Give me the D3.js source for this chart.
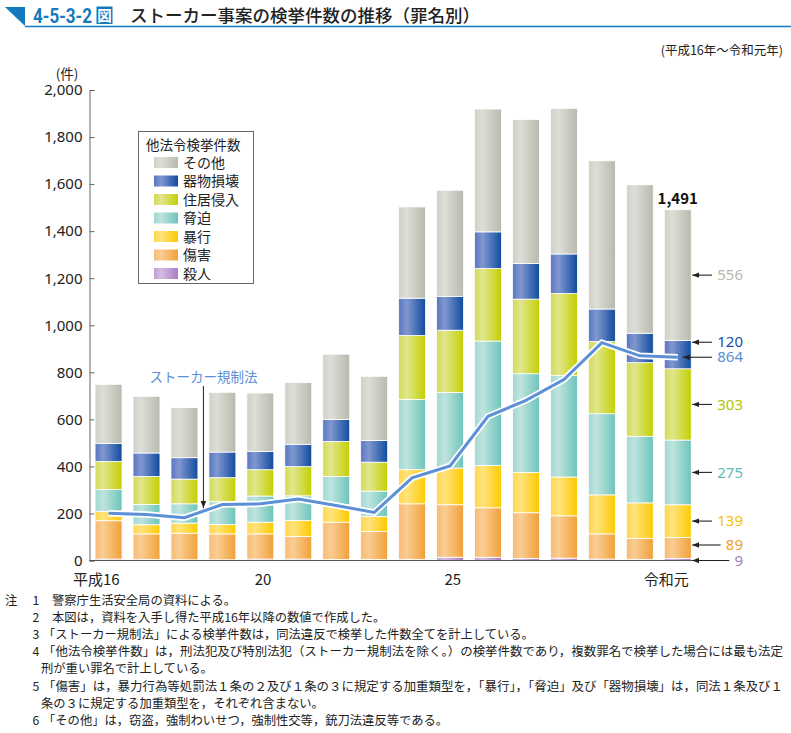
<!DOCTYPE html>
<html><head><meta charset="utf-8">
<script src="https://cdn.jsdelivr.net/npm/d3@7"></script>
<style>
html,body{margin:0;padding:0;background:#fff;}
svg{display:block;font-family:"Noto Sans CJK JP","Noto Sans",sans-serif;}
</style></head>
<body><svg id="c" width="791" height="733"></svg>
<script>
// ---- data ----
const categories = ["平成16","平成17","平成18","平成19","平成20","平成21","平成22","平成23","平成24","平成25","平成26","平成27","平成28","平成29","平成30","令和元"];
const tickLabels = {"平成16":"平成16","平成20":"20","平成25":"25","令和元":"令和元"};
const satsujin = [6,5,3,3,6,6,4,4,5,14,14,9,10,6,5,9];
const shougai  = [163,108,113,110,107,96,159,119,236,223,210,194,180,107,89,89];
const boukou   = [39,39,43,40,50,68,72,64,145,156,180,171,165,166,151,139];
const kyouhaku = [94,86,82,97,111,105,122,108,299,321,529,420,431,345,283,275];
const juukyo   = [119,119,105,102,112,124,149,123,271,265,308,317,349,307,313,303];
const kibutsu  = [76,100,91,109,78,95,93,92,159,144,156,151,168,138,125,120];
const sonota   = [252,241,213,254,248,262,278,273,388,451,522,613,619,630,631,556];
const stalker  = [201,196,182,238,241,261,234,204,351,402,613,681,769,926,870,864];
const seriesNames = ["殺人","傷害","暴行","脅迫","住居侵入","器物損壊","その他"];
const yTicks = [0,200,400,600,800,1000,1200,1400,1600,1800,2000];
const notes = [
 ["注","1","警察庁生活安全局の資料による。"],
 ["","2","本図は，資料を入手し得た平成16年以降の数値で作成した。"],
 ["","3","「ストーカー規制法」による検挙件数は，同法違反で検挙した件数全てを計上している。"],
 ["","4","「他法令検挙件数」は，刑法犯及び特別法犯（ストーカー規制法を除く。）の検挙件数であり，複数罪名で検挙した場合には最も法定"],
 ["","","刑が重い罪名で計上している。"],
 ["","5","「傷害」は，暴力行為等処罰法１条の２及び１条の３に規定する加重類型を，「暴行」，「脅迫」及び「器物損壊」は，同法１条及び１"],
 ["","","条の３に規定する加重類型を，それぞれ含まない。"],
 ["","6","「その他」は，窃盗，強制わいせつ，強制性交等，銃刀法違反等である。"]
];

// ---- styles ----
const grad = {
 "殺人":   ["#bf9fd3","#d4bce2","#a87fc2"],
 "傷害":   ["#f6bb74","#f9cd93","#f1a038"],
 "暴行":   ["#ffd64a","#ffe37e","#fdca00"],
 "脅迫":   ["#a2d8d1","#bfe4df","#6cc4ba"],
 "住居侵入":["#d2da58","#e1e68c","#c3cf00"],
 "器物損壊":["#5877c0","#8197d0","#0f4b9e"],
 "その他": ["#cfd0c7","#ddded7","#b7baad"]
};
const labelColor = {"殺人":"#a57cc0","傷害":"#f0a035","暴行":"#f3c200","脅迫":"#5cbcb2","住居侵入":"#b3c300","器物損壊":"#1b4f9f","その他":"#b6b9aa"};
const lineColor = "#5b8fd6";

const svg = d3.select("#c");
const defs = svg.append("defs");
seriesNames.forEach((s,i)=>{
  const g = defs.append("linearGradient").attr("id","g"+i).attr("x1","0").attr("x2","1").attr("y1","0").attr("y2","0");
  g.append("stop").attr("offset","0").attr("stop-color",grad[s][0]);
  g.append("stop").attr("offset","0.3").attr("stop-color",grad[s][1]);
  g.append("stop").attr("offset","1").attr("stop-color",grad[s][2]);
});
defs.append("marker").attr("id","ah").attr("viewBox","0 0 10 10").attr("refX",10).attr("refY",5)
  .attr("markerWidth",7).attr("markerHeight",7).attr("markerUnits","userSpaceOnUse").attr("orient","auto")
  .append("path").attr("d","M0,1 L10,5 L0,9 Z").attr("fill","#222");

// ---- title ----
svg.append("path").attr("d","M5,7 L25,7 L25,26 Z").attr("fill","#1479bd");
svg.append("line").attr("x1",25).attr("x2",791).attr("y1",26.5).attr("y2",26.5).attr("stroke","#1479bd").attr("stroke-width",1.5);
svg.append("text").attr("x",33).attr("y",23).attr("font-size",21).attr("font-weight","bold").attr("fill","#1479bd")
  .attr("font-family","'Liberation Sans Narrow','Roboto','Noto Sans',sans-serif").attr("textLength",59).attr("lengthAdjust","spacingAndGlyphs").text("4-5-3-2");
svg.append("rect").attr("x",96.5).attr("y",6.5).attr("width",16).attr("height",17.5).attr("fill","#1479bd");
svg.append("text").attr("x",104.5).attr("y",21).attr("text-anchor","middle").attr("font-size",14.5).attr("font-weight","bold").attr("fill","#fff").text("図");
svg.append("text").attr("x",130).attr("y",22).attr("font-size",17.5).attr("font-weight","500").attr("fill","#222").text("ストーカー事案の検挙件数の推移（罪名別）");
svg.append("text").attr("x",783).attr("y",55).attr("text-anchor","end").attr("font-size",12.5).attr("fill","#222").text("(平成16年～令和元年)");

// ---- scales ----
const x = d3.scaleBand().domain(categories).range([89,697.3]).paddingInner(0.29).paddingOuter(0.16);
const y = d3.scaleLinear().domain([0,2000]).range([560.5,90]);
const cx = d => x(d) + x.bandwidth()/2;

// ---- axes ----
const yAxis = d3.axisLeft(y).tickValues(yTicks).tickSize(-5).tickPadding(7).tickFormat(d3.format(","));
const gy = svg.append("g").attr("transform","translate(89.5,0)").call(yAxis);
gy.select(".domain").attr("stroke","#666");
gy.selectAll(".tick line").attr("stroke","#666");
gy.selectAll(".tick text").attr("font-size",15).attr("fill","#222").attr("font-family","'Noto Sans',sans-serif");
svg.append("text").attr("x",67).attr("y",79).attr("text-anchor","middle").attr("font-size",13.5).attr("fill","#222").text("(件)");

// ---- stacked bars ----
const table = categories.map((c,i)=>({cat:c,"殺人":satsujin[i],"傷害":shougai[i],"暴行":boukou[i],"脅迫":kyouhaku[i],"住居侵入":juukyo[i],"器物損壊":kibutsu[i],"その他":sonota[i]}));
const stacked = d3.stack().keys(seriesNames)(table);
stacked.forEach((layer,i)=>{
  svg.append("g").selectAll("rect").data(layer).join("rect")
    .attr("x",d=>x(d.data.cat)).attr("width",x.bandwidth())
    .attr("y",d=>y(d[1])).attr("height",d=>y(d[0])-y(d[1]))
    .attr("fill","url(#g"+i+")").attr("stroke","#fff").attr("stroke-width",0.8);
});

// baseline
svg.append("line").attr("x1",89.5).attr("x2",697.3).attr("y1",y(0)).attr("y2",y(0)).attr("stroke","#555").attr("stroke-width",1.2);

// x labels
svg.append("g").selectAll("text").data(categories.filter(c=>tickLabels[c])).join("text")
  .attr("x",d=>cx(d)+11).attr("y",585).attr("text-anchor","end").attr("font-size",15).attr("fill","#222").text(d=>tickLabels[d]);

// ---- stalker line ----
const line = d3.line().x((d,i)=>cx(categories[i])).y(d=>y(d));
svg.append("path").datum(stalker).attr("d",line).attr("fill","none").attr("stroke","#fff").attr("stroke-width",6.5).attr("stroke-linejoin","miter");
svg.append("path").datum(stalker).attr("d",line).attr("fill","none").attr("stroke",lineColor).attr("stroke-width",3).attr("stroke-linejoin","miter");

// annotation
const ax = (cx(categories[2])+cx(categories[3]))/2;
svg.append("text").attr("x",ax).attr("y",382).attr("text-anchor","middle").attr("font-size",13.5).attr("fill",lineColor).text("ストーカー規制法");
svg.append("line").attr("x1",ax).attr("x2",ax).attr("y1",386).attr("y2",y((stalker[2]+stalker[3])/2)-3)
  .attr("stroke","#222").attr("stroke-width",1).attr("marker-end","url(#ah)");

// total label
const last = table[table.length-1];
const lastTotal = seriesNames.reduce((a,s)=>a+last[s],0);
svg.append("text").attr("x",cx(last.cat)).attr("y",y(lastTotal)-6).attr("text-anchor","middle").attr("font-size",15).attr("font-weight","bold").attr("fill","#111").text(d3.format(",")(lastTotal));

// right labels
const lastLayer = stacked.map((l,i)=>({name:seriesNames[i],v:last[seriesNames[i]],lo:l[l.length-1][0],hi:l[l.length-1][1]}));
const barRight = x(last.cat)+x.bandwidth();
const labX = 743;
const rl = lastLayer.map(d=>{
  let yy = y((d.lo+d.hi)/2);
  if(d.name==="殺人") yy = y(0);
  if(d.name==="器物損壊") yy = y(stalker[stalker.length-1]) - 15;
  if(d.name==="傷害") yy = y(0) - 15.5;
  return {text:String(d.v), color:labelColor[d.name], y:yy, tip:barRight+1};
});
rl.push({text:String(stalker[stalker.length-1]), color:lineColor, y:y(stalker[stalker.length-1]), tip:cx(last.cat)+5});
rl.forEach(d=>{
  const w = d.text.length*8.7;
  svg.append("line").attr("x1",labX-w-5).attr("x2",d.tip).attr("y1",d.y).attr("y2",d.y)
    .attr("stroke","#222").attr("stroke-width",1.1).attr("marker-end","url(#ah)");
  svg.append("text").attr("x",labX).attr("y",d.y).attr("dy","0.35em").attr("text-anchor","end")
    .attr("font-size",15).attr("fill",d.color).attr("font-family","'Noto Sans',sans-serif").text(d.text);
});

// ---- legend ----
const lg = svg.append("g");
lg.append("rect").attr("x",138.5).attr("y",131.5).attr("width",115).attr("height",152).attr("fill","#fff").attr("stroke","#666").attr("stroke-width",1);
lg.append("text").attr("x",146).attr("y",150).attr("font-size",13.5).attr("fill","#222").text("他法令検挙件数");
const legOrder = seriesNames.slice().reverse();
legOrder.forEach((s,i)=>{
  const yy = 162.5 + i*18.5;
  lg.append("rect").attr("x",154).attr("y",yy-5.5).attr("width",24).attr("height",11).attr("fill","url(#g"+seriesNames.indexOf(s)+")");
  lg.append("text").attr("x",183).attr("y",yy).attr("dy","0.36em").attr("font-size",14).attr("fill","#222").text(s);
});

// ---- notes ----
const ng = svg.append("g").attr("font-size",12.3).attr("fill","#222");
notes.forEach((n,i)=>{
  const yy = 605 + i*17.1;
  if(n[0]) ng.append("text").attr("x",5).attr("y",yy).text(n[0]);
  if(n[1]) ng.append("text").attr("x",36).attr("y",yy).attr("text-anchor","middle").text(n[1]);
  const bracket = n[2].startsWith("「");
  const t = ng.append("text").attr("x",n[1] ? (bracket ? 43 : 52) : 41).attr("y",yy).text(n[2]);
  if(n[1]==="4"||n[1]==="5") t.attr("textLength",740).attr("lengthAdjust","spacingAndGlyphs");
});
</script></body></html>
